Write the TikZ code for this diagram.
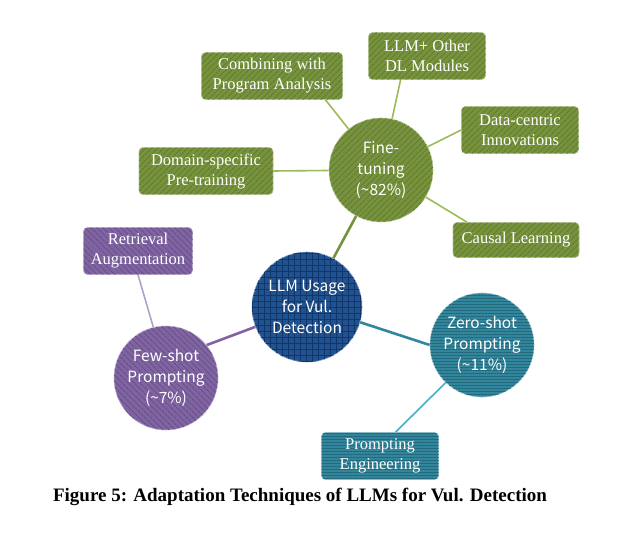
\documentclass[tikz,border=0pt]{standalone}
\usepackage{fontspec}
\setmainfont{Liberation Serif}
\newfontfamily\hubfont{Noto Sans CJK KR}
\usetikzlibrary{patterns.meta,backgrounds}
\definecolor{olive}{HTML}{76923C}
\definecolor{olivedark}{HTML}{617A31}
\definecolor{olivelight}{HTML}{9BBB59}
\definecolor{plum}{HTML}{8064A2}
\definecolor{plumdark}{HTML}{664F85}
\definecolor{plumlight}{HTML}{B3A2C7}
\definecolor{teal}{HTML}{31859C}
\definecolor{tealdark}{HTML}{246777}
\definecolor{teallight}{HTML}{4BACC6}
\definecolor{navy}{HTML}{1F528F}
\definecolor{navydark}{HTML}{12366A}
\begin{document}
\begin{tikzpicture}[x=1pt,y=-1pt,
  hub/.style={circle, draw=white!50!#1, line width=0.6pt, fill=#1, text=white,
    font=\hubfont\fontsize{15.5}{21}\selectfont, align=center, inner sep=0pt, minimum size=104pt},
  leaf/.style={rounded corners=4pt, draw=white!45!#1, line width=0.6pt, fill=#1, text=white,
    font=\fontsize{16.5}{20}\selectfont, align=center, inner sep=2pt, minimum height=47pt},
  green/.style={pattern={Lines[angle=45,distance=4pt,line width=0.9pt]}, pattern color=olivedark},
  purple/.style={pattern={Lines[angle=-45,distance=4pt,line width=0.9pt]}, pattern color=plumdark},
  blue/.style={pattern={Hatch[angle=0,distance=6pt,line width=0.6pt]}, pattern color=navydark},
  cyan/.style={pattern={Lines[angle=0,distance=3pt,line width=0.6pt]}, pattern color=tealdark},
  thinlink/.style={line width=1.6pt},
  thicklink/.style={line width=2.6pt}]
\useasboundingbox (0,0) rectangle (631,535);
\node[hub=navy, minimum size=110pt, postaction={blue}] (hub) at (307,307) {LLM Usage\\for Vul.\\Detection};
\node[hub=olive, postaction={green}] (ft) at (381,170) {Fine-\\tuning\\(\textasciitilde82\%)};
\node[hub=plum, postaction={purple}] (fs) at (166,378) {Few-shot\\Prompting\\(\textasciitilde7\%)};
\node[hub=teal, postaction={cyan}] (zs) at (482,345) {Zero-shot\\Prompting\\(\textasciitilde11\%)};
\node[leaf=olive, minimum width=141pt, postaction={green}] (comb) at (272,76) {Combining with\\Program Analysis};
\node[leaf=olive, minimum width=117pt, postaction={green}] (dl) at (427,56) {LLM+ Other\\DL Modules};
\node[leaf=olive, minimum width=117pt, postaction={green}] (dc) at (520,130) {Data-centric\\Innovations};
\node[leaf=olive, minimum width=134pt, postaction={green}] (dom) at (206,171) {Domain-specific\\Pre-training};
\node[leaf=olive, minimum width=126pt, minimum height=35pt, postaction={green}] (cl) at (516,240) {Causal Learning};
\node[leaf=plum, minimum width=109pt, postaction={purple}] (ret) at (138,251) {Retrieval\\Augmentation};
\node[leaf=teal, minimum width=117pt, postaction={cyan}] (pe) at (380,456) {Prompting\\Engineering};
\node[font=\bfseries\fontsize{19}{22}\selectfont] (cap) at (300,497) {Figure 5: Adaptation Techniques of LLMs for Vul. Detection};
\begin{scope}[on background layer]
\draw[thicklink, olive] (hub) -- (ft);
\draw[thicklink, plum] (fs.39) -- (hub.201);
\draw[thicklink, teal] (hub.344) -- (zs.180);
\draw[thinlink, olivelight] (ft) -- (comb.336);
\draw[thinlink, olivelight] (ft) -- (dl.222);
\draw[thinlink, olivelight] (ft) -- (dc.west);
\draw[thinlink, olivelight] (ft) -- (dom.east);
\draw[thinlink, olivelight] (ft) -- (cl.160);
\draw[thinlink, plumlight] (fs.104) -- (ret.south);
\draw[thinlink, teallight] (zs.226) -- (pe.57);
\end{scope}
\end{tikzpicture}
\end{document}
